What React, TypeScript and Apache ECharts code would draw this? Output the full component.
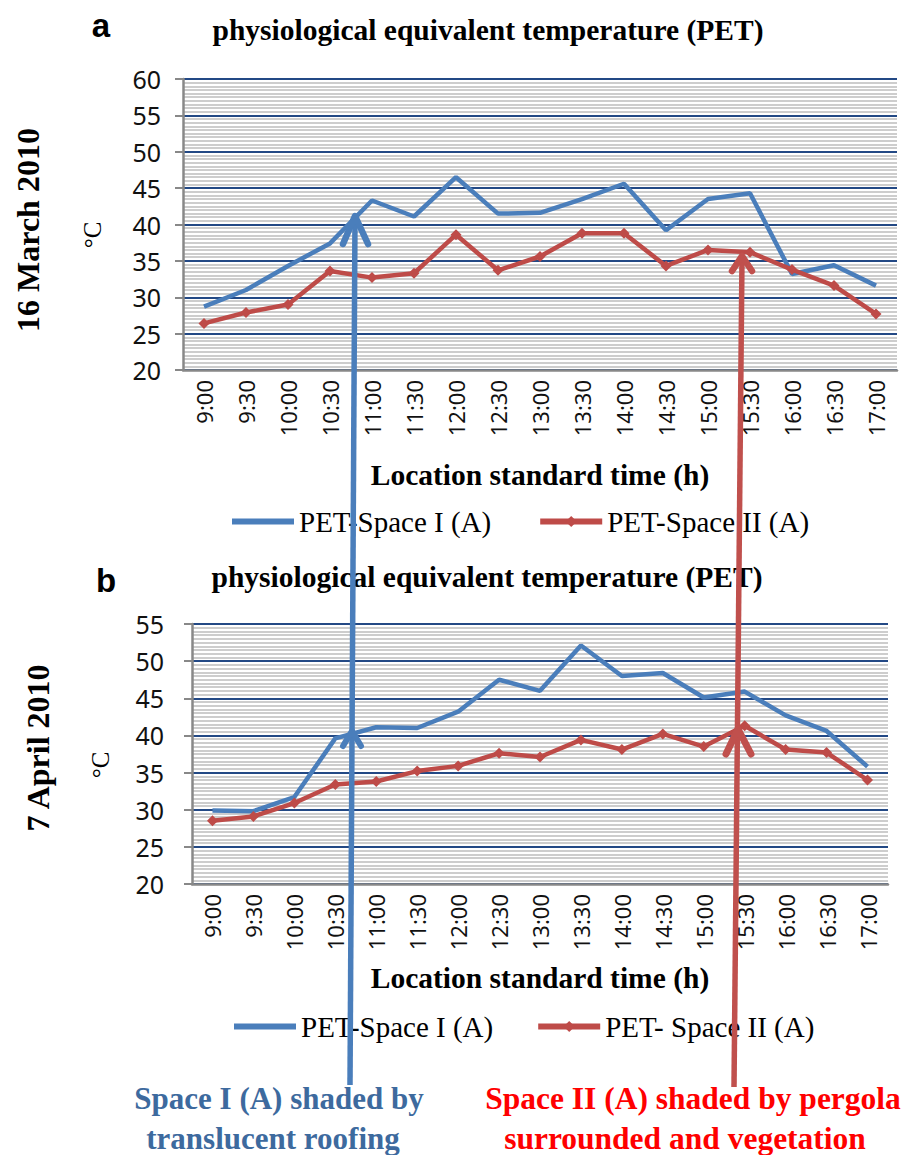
import React, { useEffect, useRef } from 'react';
import * as echarts from 'echarts';

const times = ['9:00', '9:30', '10:00', '10:30', '11:00', '11:30', '12:00', '12:30', '13:00', '13:30', '14:00', '14:30', '15:00', '15:30', '16:00', '16:30', '17:00'];

// (a) 16 March 2010
const marchSpaceI = [28.7, 31.0, 34.3, 37.4, 43.3, 41.1, 46.5, 41.5, 41.6, 43.5, 45.6, 39.2, 43.5, 44.3, 33.2, 34.4, 31.6];
const marchSpaceII = [26.4, 27.9, 29.0, 33.6, 32.7, 33.3, 38.6, 33.7, 35.6, 38.8, 38.8, 34.3, 36.5, 36.2, 33.8, 31.6, 27.7];

// (b) 7 April 2010
const aprilSpaceI = [29.9, 29.8, 31.7, 39.6, 41.1, 41.0, 43.2, 47.5, 46.0, 52.1, 48.0, 48.4, 45.1, 45.9, 42.7, 40.6, 35.8];
const aprilSpaceII = [28.5, 29.1, 30.9, 33.4, 33.8, 35.2, 35.9, 37.6, 37.1, 39.4, 38.1, 40.2, 38.5, 41.3, 38.1, 37.7, 34.0];

const yTicksA = { min: 20, max: 60, interval: 5 };
const yTicksB = { min: 20, max: 55, interval: 5 };

const nameI = 'PET-Space I (A)';
const nameIIa = 'PET-Space II (A)';
const nameIIb = 'PET- Space II (A)';

const BLUE = '#4a7ebb';
const RED = '#be4b48';
const SERIF = '"Liberation Serif", "Times New Roman", serif';
const SANS = '"Noto Sans", "Open Sans", sans-serif';

function yAxisCfg(gridIndex: number, t: { min: number; max: number; interval: number }, margin: number) {
  return {
    type: 'value',
    gridIndex,
    min: t.min,
    max: t.max,
    interval: t.interval,
    axisLine: { show: true, lineStyle: { color: '#888888', width: 2.5 } },
    axisTick: { show: true, length: 8, lineStyle: { color: '#888888', width: 2 } },
    axisLabel: { fontFamily: SANS, fontSize: 25, color: '#111', margin },
    splitLine: { show: true, lineStyle: { color: '#234985', width: 2 } },
    minorTick: { show: false, splitNumber: 10 },
    minorSplitLine: { show: true, lineStyle: { color: '#bdbdbd', width: 1.6 } },
  };
}

function xAxisCfg(gridIndex: number) {
  return {
    type: 'category',
    gridIndex,
    data: times,
    boundaryGap: true,
    axisLine: { show: true, lineStyle: { color: '#888888', width: 2.5 } },
    axisTick: { show: false },
    axisLabel: { rotate: 90, fontFamily: SANS, fontSize: 22, color: '#111', margin: 10, interval: 0 },
    splitLine: { show: false },
  };
}

function txt(text: string, x: number, y: number, font: string, fill: string, rotation = 0) {
  return {
    type: 'text',
    x,
    y,
    rotation,
    z: 100,
    style: { text, font, fill, align: 'center', verticalAlign: 'middle' },
  };
}

function arrowHead(tip: [number, number], left: [number, number], right: [number, number], color: string, w: number) {
  return {
    type: 'polyline',
    z: 110,
    shape: { points: [left, tip, right] },
    style: { stroke: color, lineWidth: w, fill: 'none', lineCap: 'round', lineJoin: 'round' },
  };
}

function shaft(from: [number, number], to: [number, number], color: string, w: number) {
  return {
    type: 'line',
    z: 110,
    shape: { x1: from[0], y1: from[1], x2: to[0], y2: to[1] },
    style: { stroke: color, lineWidth: w },
  };
}

export default function App() {
  const ref = useRef<HTMLDivElement>(null);
  useEffect(() => {
    if (!ref.current) return;
    const chart = echarts.init(ref.current, null, { renderer: 'svg' });
    const lineSeries = (name: string, data: number[], idx: number, color: string, marker: boolean) => ({
      type: 'line',
      name,
      data,
      xAxisIndex: idx,
      yAxisIndex: idx,
      symbol: marker ? 'diamond' : 'none',
      showSymbol: marker,
      symbolSize: 11,
      lineStyle: { color, width: 4.5 },
      itemStyle: { color },
      z: 5,
    });
    const legendCfg = (left: number, top: number, data: any[], gap: number) => ({
      left,
      top,
      data,
      itemWidth: 62,
      itemHeight: 14,
      itemGap: gap,
      selectedMode: false,
      lineStyle: { width: 6 },
      textStyle: { fontFamily: SERIF, fontSize: 29, color: '#000' },
    });
    chart.setOption({
      animation: false,
      backgroundColor: '#ffffff',
      grid: [
        { left: 183, top: 79, width: 714, height: 291, containLabel: false },
        { left: 192, top: 624, width: 696, height: 260, containLabel: false },
      ],
      xAxis: [xAxisCfg(0), xAxisCfg(1)],
      yAxis: [yAxisCfg(0, yTicksA, 22), yAxisCfg(1, yTicksB, 28)],
      legend: [
        legendCfg(224, 502, [{ name: nameI, itemStyle: { opacity: 0 } }, nameIIa], 46),
        legendCfg(226, 1007, [{ name: nameI, itemStyle: { opacity: 0 } }, nameIIb], 42),
      ],
      series: [
        lineSeries(nameI, marchSpaceI, 0, BLUE, false),
        lineSeries(nameIIa, marchSpaceII, 0, RED, true),
        lineSeries(nameI, aprilSpaceI, 1, BLUE, false),
        lineSeries(nameIIb, aprilSpaceII, 1, RED, true),
      ],
      graphic: [
        txt('a', 101, 25, 'bold 33px "Liberation Sans", Arial, sans-serif', '#000'),
        txt('b', 106, 580, 'bold 33px "Liberation Sans", Arial, sans-serif', '#000'),
        txt('physiological equivalent temperature (PET)', 488, 30, `bold 29.5px ${SERIF}`, '#000'),
        txt('physiological equivalent temperature (PET)', 487, 577, `bold 29.5px ${SERIF}`, '#000'),
        txt('16 March 2010', 28, 230, `bold 32px ${SERIF}`, '#000', Math.PI / 2),
        txt('7 April 2010', 38, 748, `bold 32px ${SERIF}`, '#000', Math.PI / 2),
        txt('°C', 92, 235, `25px ${SERIF}`, '#000', Math.PI / 2),
        txt('°C', 100, 765, `25px ${SERIF}`, '#000', Math.PI / 2),
        txt('Location standard time (h)', 540, 475, `bold 29.5px ${SERIF}`, '#000'),
        txt('Location standard time (h)', 540, 978, `bold 29.5px ${SERIF}`, '#000'),
        txt('Space I (A) shaded by', 279, 1098, `bold 31px ${SERIF}`, '#3d6a9e'),
        txt('translucent roofing', 273, 1138, `bold 31px ${SERIF}`, '#3d6a9e'),
        txt('Space II (A) shaded by pergola', 693, 1098, `bold 31.5px ${SERIF}`, '#ff0000'),
        txt('surrounded and vegetation', 685, 1138, `bold 31.5px ${SERIF}`, '#ff0000'),
        shaft([350, 1085], [355, 218], BLUE, 5.5),
        arrowHead([355, 216], [343, 244], [368, 244], BLUE, 6.5),
        arrowHead([352, 731], [343, 746], [361, 746], BLUE, 6),
        shaft([734, 1087], [742, 258], '#c0504d', 5.5),
        arrowHead([742, 256], [732, 271], [752, 271], '#c0504d', 6.5),
        arrowHead([738, 729], [726, 754], [751, 754], '#c0504d', 7),
      ],
    });
    return () => chart.dispose();
  }, []);
  return <div ref={ref} style={{ position: 'absolute', left: 0, top: 0, width: 907, height: 1155 }} />;
}
